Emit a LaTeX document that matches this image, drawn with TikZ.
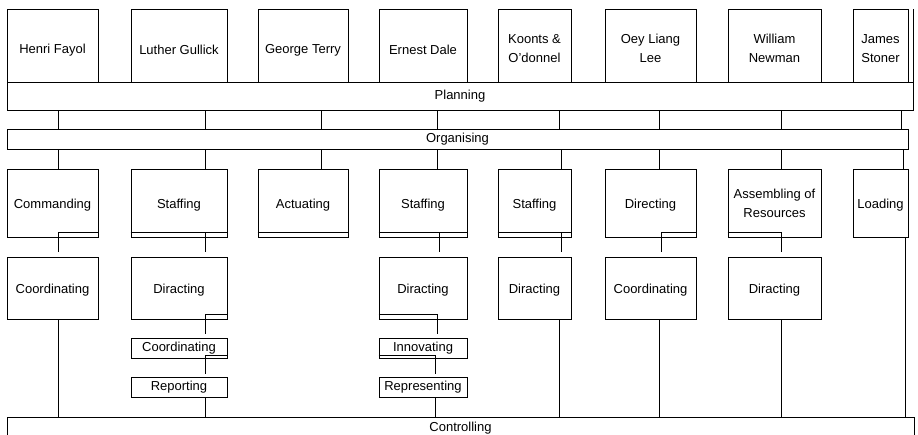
\documentclass[tikz,border=0pt]{standalone}
\usepackage{fontspec}
\setmainfont{Liberation Sans}
\usetikzlibrary{calc}
\newcommand{\firstline}{\rule{0pt}{15.5pt}}

\begin{document}
\begin{tikzpicture}[x=1pt, y=-1pt, line width=0.9pt,
    every node/.style={font=\fontsize{13}{19}\selectfont},
    person/.style={draw, minimum height=73pt, inner sep=1pt, align=center,
                   execute at begin node={\rule{0pt}{18pt}}},
    task/.style={draw, minimum height=68pt, inner sep=1pt, align=center,
                 execute at begin node={\rule{0pt}{13pt}}},
    subtask/.style={draw, minimum height=62pt, inner sep=1pt, align=center,
                    execute at begin node={\rule{0pt}{13pt}}},
    minor/.style={draw, minimum height=20pt, inner sep=1pt},
    band/.style={draw, inner sep=0pt},
]
\useasboundingbox (0,0) rectangle (918,435);
\clip (0,0) rectangle (918,435);
% authors
\node[person, minimum width=91pt] (fayol) at (52.5,45.5) {Henri Fayol};
\node[person, minimum width=96pt] (gullick) at (179,45.5) {Luther Gullick};
\node[person, minimum width=90pt] (terry) at (303,45.5) {George Terry};
\node[person, minimum width=88pt] (dale) at (423,45.5) {Ernest Dale};
\node[person, minimum width=73pt] (koontz) at (534.5,45.5) {\firstline Koonts \&\\O’donnel};
\node[person, minimum width=91pt] (lee) at (650.5,45.5) {\firstline Oey Liang\\Lee};
\node[person, minimum width=93pt] (newman) at (774.5,45.5) {\firstline William\\Newman};
\node[person, minimum width=55pt] (stoner) at (880.5,45.5) {\firstline James\\Stoner};
% common functions
\node[band, minimum width=906pt, minimum height=28pt] (plan) at (460,96) {Planning};
\node[band, minimum width=901pt, minimum height=20pt] (org) at (457.5,139) {Organising};
\node[band, minimum width=907pt, minimum height=22pt] (ctrl) at (460.5,428) {Controlling};
% second row
\node[task, minimum width=91pt] (cmd) at (52.5,203) {Commanding};
\node[task, minimum width=96pt] (stf1) at (179,203) {Staffing};
\node[task, minimum width=90pt] (act) at (303,203) {Actuating};
\node[task, minimum width=88pt] (stf2) at (423,203) {Staffing};
\node[task, minimum width=73pt] (stf3) at (534.5,203) {Staffing};
\node[task, minimum width=91pt] (dir) at (650.5,203) {Directing};
\node[task, minimum width=93pt] (asm) at (774.5,203) {Assembling of\\Resources};
\node[task, minimum width=55pt] (load) at (880.5,203) {Loading};
% third row
\node[subtask, minimum width=91pt] (crd1) at (52.5,288) {Coordinating};
\node[subtask, minimum width=96pt] (dirc1) at (179,288) {Diracting};
\node[subtask, minimum width=88pt] (dirc2) at (423,288) {Diracting};
\node[subtask, minimum width=73pt] (dirc3) at (534.5,288) {Diracting};
\node[subtask, minimum width=91pt] (crd2) at (650.5,288) {Coordinating};
\node[subtask, minimum width=93pt] (dirc4) at (774.5,288) {Diracting};
% small boxes
\node[minor, minimum width=96pt] (crd3) at (179,348) {Coordinating};
\node[minor, minimum width=96pt] (rep) at (179,387.5) {Reporting};
\node[minor, minimum width=88pt] (inno) at (423,348) {Innovating};
\node[minor, minimum width=88pt] (repr) at (423,387.5) {Representing};

% planning -> organising
\foreach \x in {58,205,321,437,559,659,781,901}
  \draw (plan.south -| \x,0) -- (org.north -| \x,0);
\draw (plan.north east) -- (plan.north east |- stoner.north);
% organising -> second row
\foreach \x/\n in {58/cmd,205/stf1,321/act,437/stf2,561/stf3,659/dir,781/asm,903/load}
  \draw (org.south -| \x,0) -- (\n.north -| \x,0);
% second row -> third row
\draw ([yshift=5pt]cmd.south east) -| ([yshift=5pt]crd1.north -| 58,0);
\draw ([yshift=5pt]stf1.south west) -- ([yshift=5pt]stf1.south east);
\draw ([yshift=5pt]stf1.south -| 205,0) -- ([yshift=5pt]dirc1.north -| 205,0);
\draw ([yshift=5pt]act.south west) -- ([yshift=5pt]act.south east);
\draw ([yshift=5pt]stf2.south west) -- ([yshift=5pt]stf2.south east);
\draw ([yshift=5pt]stf2.south -| 439,0) -- ([yshift=5pt]dirc2.north -| 439,0);
\draw ([yshift=5pt]stf3.south west) -- ([yshift=5pt]stf3.south east);
\draw ([yshift=5pt]stf3.south -| 561,0) -- ([yshift=5pt]dirc3.north -| 561,0);
\draw ([yshift=5pt]dir.south east) -| ([yshift=5pt]crd2.north -| 661,0);
\draw ([yshift=5pt]asm.south west) -| ([yshift=5pt]dirc4.north -| 781,0);
% third row -> small boxes
\draw ([yshift=5pt]dirc1.south east) -| ([yshift=4pt]crd3.north -| 205,0);
\draw ([yshift=3pt]crd3.south east) -| ([yshift=3pt]rep.north -| 205,0);
\draw ([yshift=5pt]dirc2.south west) -| ([yshift=4pt]inno.north -| 437,0);
\draw ([yshift=3pt]inno.south west) -| ([yshift=3pt]repr.north -| 435,0);
% down to controlling
\foreach \x/\n in {58/crd1,205/rep,435/repr,559/dirc3,659/crd2,781/dirc4,905/load}
  \draw (\n.south -| \x,0) -- (ctrl.north -| \x,0);
\end{tikzpicture}
\end{document}
